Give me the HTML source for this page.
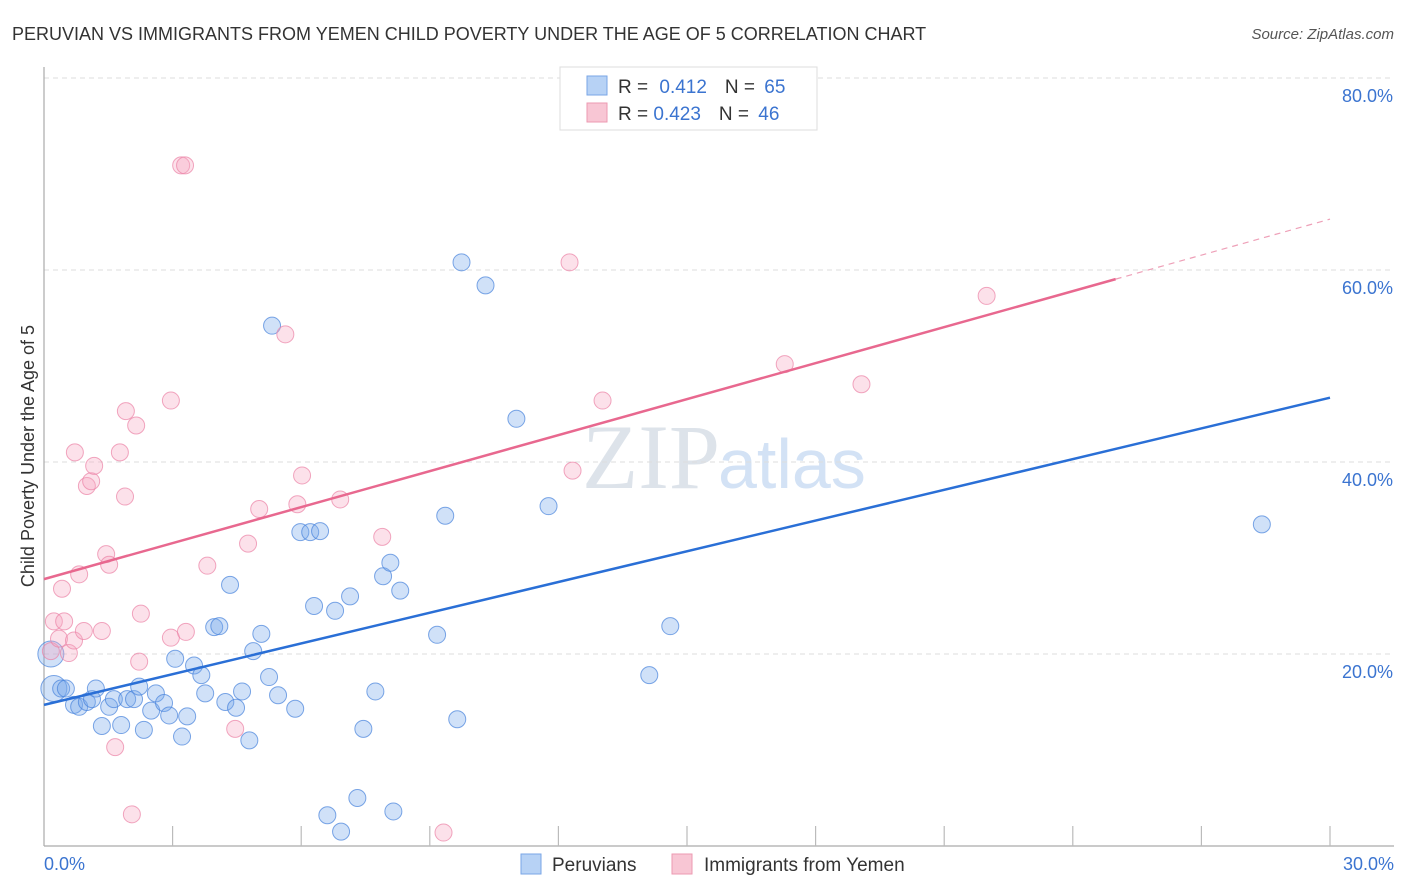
<!DOCTYPE html>
<html><head><meta charset="utf-8"><style>
body{margin:0;background:#fff;font-family:"Liberation Sans",sans-serif}
svg{display:block}
</style></head><body>
<svg id="chart" width="1406" height="892" xmlns="http://www.w3.org/2000/svg">
<text x="12" y="40" font-size="18" fill="#333">PERUVIAN VS IMMIGRANTS FROM YEMEN CHILD POVERTY UNDER THE AGE OF 5 CORRELATION CHART</text>
<text x="1394" y="39" font-size="15" fill="#555" font-style="italic" text-anchor="end">Source: ZipAtlas.com</text>
<text x="720" y="488" font-size="92" fill="#dde3ea" text-anchor="end" font-family="Liberation Serif">ZIP</text>
<text x="718" y="488" font-size="70" fill="#d3e2f5">atlas</text>
<g id="grid"></g>
<line x1="44" y1="67" x2="44" y2="846" stroke="#aaa" stroke-width="1.2"/>
<line x1="44" y1="846" x2="1394" y2="846" stroke="#aaa" stroke-width="1.2"/>
<g id="ticks"></g>
<g id="points"></g>
<g id="lines"></g>
<text transform="translate(34,456) rotate(-90)" font-size="18" fill="#333" text-anchor="middle">Child Poverty Under the Age of 5</text>
<text x="44" y="870" font-size="18" fill="#3b74d0">0.0%</text>
<text x="1394" y="870" font-size="18" fill="#3b74d0" text-anchor="end">30.0%</text>
<g>
<rect x="560" y="67" width="257" height="63" fill="#fff" stroke="#ddd"/>
<rect x="587" y="76" width="20" height="19" fill="#b7d2f5" stroke="#7aa6e6"/>
<rect x="587" y="103" width="20" height="19" fill="#f8c6d4" stroke="#ec9ab2"/>
<text x="618" y="93" font-size="19" fill="#333">R = <tspan fill="#3b74d0" dx="6">0.412</tspan><tspan dx="18" fill="#333">N = </tspan><tspan fill="#3b74d0" dx="4">65</tspan></text>
<text x="618" y="120" font-size="19" fill="#333">R = <tspan fill="#3b74d0">0.423</tspan><tspan dx="18" fill="#333">N = </tspan><tspan fill="#3b74d0" dx="4">46</tspan></text>
</g>
<g>
<rect x="521" y="854" width="20" height="20" fill="#b7d2f5" stroke="#7aa6e6"/>
<text x="552" y="871" font-size="19" fill="#333">Peruvians</text>
<rect x="672" y="854" width="20" height="20" fill="#f8c6d4" stroke="#ec9ab2"/>
<text x="704" y="871" font-size="19" fill="#333">Immigrants from Yemen</text>
</g>
</svg>
<script>
const blueX=[0.16,0.23,0.40,0.51,0.70,0.82,1.00,1.12,1.21,1.35,1.52,1.63,1.80,1.94,2.10,2.22,2.33,2.50,2.61,2.80,2.92,3.06,3.22,3.34,3.50,3.67,3.76,3.97,4.09,4.23,4.34,4.48,4.62,4.79,4.88,5.07,5.25,5.32,5.46,5.86,5.98,6.21,6.44,6.30,6.61,6.79,6.93,7.14,7.31,7.45,7.73,7.91,8.08,8.15,8.31,9.17,9.36,9.64,9.74,10.30,11.02,11.77,14.12,14.61,28.41];
const blueY=[20.0,16.4,16.4,16.4,14.7,14.5,15.0,15.3,16.4,12.5,14.5,15.3,12.6,15.3,15.3,16.6,12.1,14.1,15.9,14.9,13.6,19.5,11.4,13.5,18.8,17.8,15.9,22.8,22.9,15.0,27.2,14.4,16.1,11.0,20.3,22.1,17.6,54.2,15.7,14.3,32.7,32.7,32.8,25.0,3.2,24.5,1.5,26.0,5.0,12.2,16.1,28.1,29.5,3.6,26.6,22.0,34.4,13.2,60.8,58.4,44.5,35.4,17.8,22.9,33.5];
const pinkX=[0.16,0.23,0.35,0.42,0.47,0.58,0.70,0.72,0.82,0.93,1.00,1.10,1.17,1.35,1.45,1.52,1.66,1.77,1.89,1.91,2.05,2.15,2.22,2.26,2.96,2.96,3.20,3.29,3.31,3.81,4.46,4.76,5.02,5.63,5.91,6.02,6.91,7.89,9.32,12.26,12.33,13.03,17.28,19.07,21.99];
const pinkY=[20.3,23.4,21.6,26.8,23.4,20.1,21.4,41.0,28.3,22.4,37.5,38.0,39.6,22.4,30.4,29.3,10.3,41.0,36.4,45.3,3.3,43.8,19.2,24.2,46.4,21.7,70.9,70.9,22.3,29.2,12.2,31.5,35.1,53.3,35.6,38.6,36.1,32.2,1.4,60.8,39.1,46.4,50.2,48.1,57.3];
const yTicks=[20,40,60,80];
const yTickLabels=["20.0%","40.0%","60.0%","80.0%"];
const xTicks=[0,3,6,9,12,15,18,21,24,27,30];
const blueLine=[14.7,46.7];
const pinkLine=[27.8,65.3];
const pinkSolidEnd=25;
const NS="http://www.w3.org/2000/svg";
const sx=v=>44+v/30*1286;
const sy=v=>846-v*9.6;
function mk(tag,attrs,parent){const e=document.createElementNS(NS,tag);for(const k in attrs)e.setAttribute(k,attrs[k]);document.getElementById(parent).appendChild(e);return e;}
yTicks.forEach((t,i)=>{
 const g=mk('line',{x1:44,x2:1394,y1:sy(t),y2:sy(t),stroke:'#ddd','stroke-dasharray':'5,4'},'grid');
 
 
 const l=mk('text',{x:1393,y:sy(t)+24,'font-size':18,fill:'#3b74d0','text-anchor':'end'},'grid');
 l.textContent=yTickLabels[i];
 
 
});
xTicks.forEach(t=>{
 if(t===0)return;
 const e=mk('line',{x1:sx(t),x2:sx(t),y1:826,y2:846,stroke:'#bbb','stroke-width':1.2},'ticks');
 
 
});
blueX.forEach((x,i)=>{
 const r=(i<2)?13:8.5;
 const c=mk('circle',{cx:sx(x),cy:sy(blueY[i]),r:r,fill:'rgba(120,170,235,0.35)',stroke:'rgba(70,130,220,0.7)','stroke-width':1},'points');
 
 
});
pinkX.forEach((x,i)=>{
 const c=mk('circle',{cx:sx(x),cy:sy(pinkY[i]),r:8.5,fill:'rgba(245,170,195,0.35)',stroke:'rgba(235,130,165,0.7)','stroke-width':1},'points');
 
 
});
const bl=mk('line',{x1:sx(0),y1:sy(blueLine[0]),x2:sx(30),y2:sy(blueLine[1]),stroke:'#2a6fd6','stroke-width':2.5},'lines');


const pAt=x=>pinkLine[0]+(pinkLine[1]-pinkLine[0])*x/30;
const pl=mk('line',{x1:sx(0),y1:sy(pinkLine[0]),x2:sx(pinkSolidEnd),y2:sy(pAt(pinkSolidEnd)),stroke:'#e8688f','stroke-width':2.5},'lines');


const pd=mk('line',{x1:sx(pinkSolidEnd),y1:sy(pAt(pinkSolidEnd)),x2:sx(30),y2:sy(pinkLine[1]),stroke:'#eea0b8','stroke-width':1.2,'stroke-dasharray':'6,5'},'lines');


</script>
</body></html>
